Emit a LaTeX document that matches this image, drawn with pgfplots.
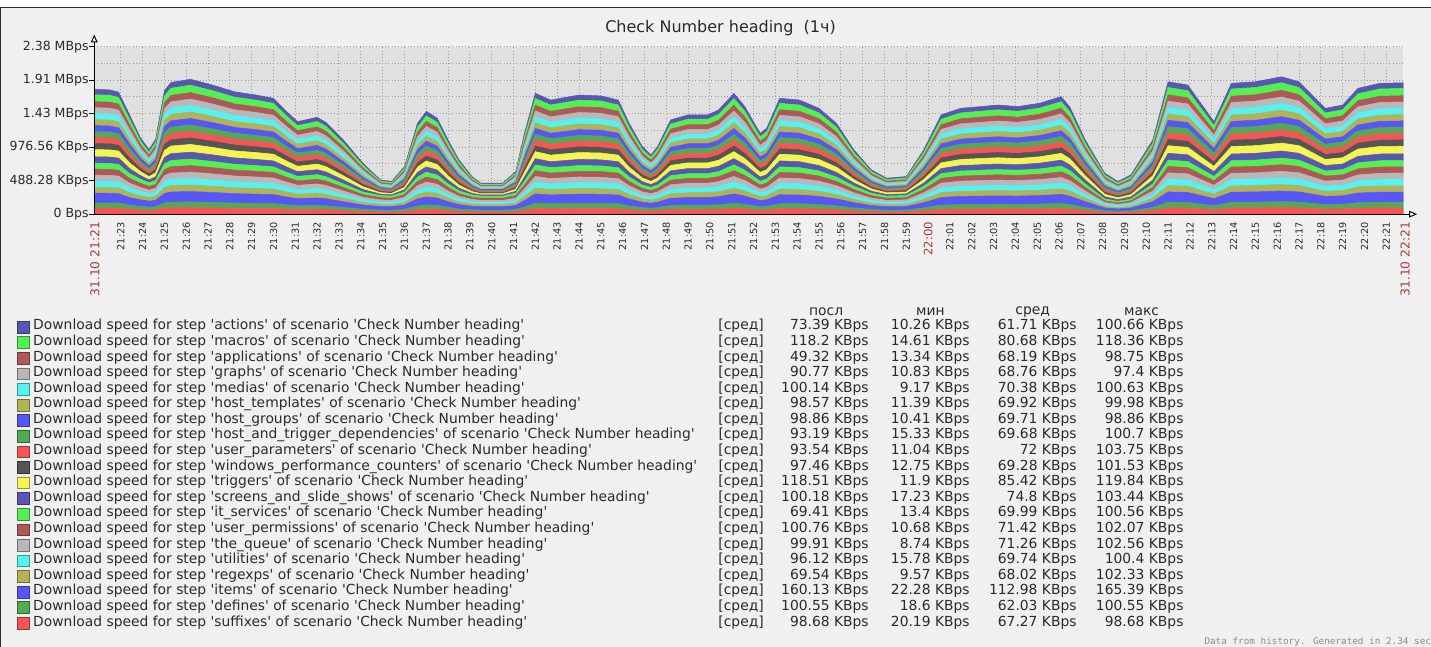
\documentclass[border=0pt]{standalone}
\usepackage{fontspec}
\setmainfont{DejaVu Sans}
\newfontfamily\monof{DejaVu Sans Mono}
\usepackage{pgfplots}
\pgfplotsset{compat=1.18}
\usepackage{pgfplotstable}

\definecolor{cPur}{HTML}{5858B2}
\definecolor{cGrn}{HTML}{52F052}
\definecolor{cBrn}{HTML}{B05858}
\definecolor{cGry}{HTML}{B8B8B8}
\definecolor{cCya}{HTML}{55F2F2}
\definecolor{cOli}{HTML}{B2B257}
\definecolor{cBlu}{HTML}{5757F7}
\definecolor{cDgr}{HTML}{55A855}
\definecolor{cRed}{HTML}{F75555}
\definecolor{cDgy}{HTML}{555555}
\definecolor{cYel}{HTML}{F5F552}
\definecolor{bgc}{HTML}{F0F0F0}
\definecolor{plotbg}{HTML}{E0E0E0}
\definecolor{framec}{HTML}{2B2B2B}
\definecolor{gridc}{HTML}{9C9C9C}
\definecolor{txtc}{HTML}{2A2A2A}
\definecolor{redc}{HTML}{AA3A3A}

% t = minutes after 21:00; values in KBps
\pgfplotstableread{
t lo df it hi sc tr mc ac
21.78333 87.4 78.7 139.8 87.4 93.5 104.9 100.5 78.7
22.5 87.0 78.3 139.2 87.0 93.1 104.4 100.1 78.3
22.9 85.4 76.9 136.6 85.4 91.4 102.5 98.2 76.9
23.4 69.6 62.6 111.4 69.6 74.5 83.5 80.0 62.6
23.9 60 54 96 49 52.4 58.8 56.4 44.1
24.3 54 48.6 86.4 39 41.7 46.8 44.9 35.1
24.6 58 52.2 92.8 49 52.4 58.8 56.4 44.1
25.0 86.4 77.8 138.2 86.4 92.4 103.7 99.4 77.8
25.3 92.2 83.0 147.5 92.2 98.7 110.6 106.0 83.0
26.2 94.4 85.0 151.0 94.4 101.0 113.3 108.6 85.0
27.2 90.4 81.4 144.6 90.4 96.7 108.5 104.0 81.4
28.2 85.7 77.1 137.1 85.7 91.7 102.8 98.6 77.1
29.2 83.4 75.1 133.4 83.4 89.2 100.1 95.9 75.1
30.0 81.1 73.0 129.8 81.1 86.8 97.3 93.3 73.0
30.6 71.8 64.6 114.9 71.8 76.8 86.2 82.6 64.6
31.1 64.8 58.3 103.7 64.8 69.3 77.8 74.5 58.3
32.0 67.8 61.0 108.5 67.8 72.5 81.4 78.0 61.0
32.4 64.3 57.9 102.9 64.3 68.8 77.2 73.9 57.9
33.2 52.0 46.8 83.2 52.0 55.6 62.4 59.8 46.8
34.1 38 34.2 60.8 34 36.4 40.8 39.1 30.6
34.9 32 28.8 51.2 18.5 19.8 22.2 21.3 16.7
35.4 31 27.9 49.6 17.2 18.4 20.6 19.8 15.5
36.0 38 34.2 60.8 30 32.1 36.0 34.5 27.0
36.6 63.6 57.2 101.8 63.6 68.1 76.3 73.1 57.2
37.0 72.0 64.8 115.2 72.0 77.0 86.4 82.8 64.8
37.5 67.2 60.5 107.5 67.2 71.9 80.6 77.3 60.5
38.0 52.0 46.8 83.2 52.0 55.6 62.4 59.8 46.8
38.5 40 36 64 36.6 39.2 43.9 42.1 32.9
39.1 33 29.7 52.8 21.7 23.2 26.0 25.0 19.5
39.5 31 27.9 49.6 15.3 16.4 18.4 17.6 13.8
40.5 31 27.9 49.6 15.3 16.4 18.4 17.6 13.8
41.1 36 32.4 57.6 25.6 27.4 30.7 29.4 23.0
41.5 56.6 50.9 90.6 56.6 60.6 67.9 65.1 50.9
42.0 84.6 76.1 135.4 84.6 90.5 101.5 97.3 76.1
42.7 79.9 71.9 127.8 79.9 85.5 95.9 91.9 71.9
43.4 81.8 73.6 130.9 81.8 87.5 98.2 94.1 73.6
44.0 83.4 75.1 133.4 83.4 89.2 100.1 95.9 75.1
45.0 82.8 74.5 132.5 82.8 88.6 99.4 95.2 74.5
45.8 79.9 71.9 127.8 79.9 85.5 95.9 91.9 71.9
46.3 63.6 57.2 101.8 63.6 68.1 76.3 73.1 57.2
46.9 50 45 80 45.5 48.7 54.6 52.3 41.0
47.3 46 41.4 73.6 38.4 41.1 46.1 44.2 34.6
47.6 50 45 80 45.5 48.7 54.6 52.3 41.0
48.2 66.0 59.4 105.6 66.0 70.6 79.2 75.9 59.4
49.0 69.5 62.6 111.2 69.5 74.4 83.4 79.9 62.6
49.9 69.5 62.6 111.2 69.5 74.4 83.4 79.9 62.6
50.4 73.0 65.7 116.8 73.0 78.1 87.6 84.0 65.7
51.1 84.6 76.1 135.4 84.6 90.5 101.5 97.3 76.1
51.6 75.3 67.8 120.5 75.3 80.6 90.4 86.6 67.8
52.3 56.6 50.9 90.6 56.6 60.6 67.9 65.1 50.9
52.6 60.1 54.1 96.2 60.1 64.3 72.1 69.1 54.1
53.2 81.1 73.0 129.8 81.1 86.8 97.3 93.3 73.0
54.1 79.9 71.9 127.8 79.9 85.5 95.9 91.9 71.9
55.0 74.1 66.7 118.6 74.1 79.3 88.9 85.2 66.7
55.8 63.6 57.2 101.8 63.6 68.1 76.3 73.1 57.2
56.6 48 43.2 76.8 43 46.0 51.6 49.5 38.7
57.4 36 32.4 57.6 27.5 29.4 33.0 31.6 24.8
58.1 31 27.9 49.6 21.2 22.7 25.4 24.4 19.1
59.0 32 28.8 51.2 22.4 24.0 26.9 25.8 20.2
59.8 48 43.2 76.8 43 46.0 51.6 49.5 38.7
60.6 69.5 62.6 111.2 69.5 74.4 83.4 79.9 62.6
61.5 74.1 66.7 118.6 74.1 79.3 88.9 85.2 66.7
62.4 75.3 67.8 120.5 75.3 80.6 90.4 86.6 67.8
63.2 76.4 68.8 122.2 76.4 81.7 91.7 87.9 68.8
64.1 75.3 67.8 120.5 75.3 80.6 90.4 86.6 67.8
65.1 77.6 69.8 124.2 77.6 83.0 93.1 89.2 69.8
66.1 82.3 74.1 131.7 82.3 88.1 98.8 94.6 74.1
66.5 74.9 67.4 119.8 74.9 80.1 89.9 86.1 67.4
67.2 52.0 46.8 83.2 52.0 55.6 62.4 59.8 46.8
68.1 26 23.4 41.6 30.5 32.6 36.6 35.1 27.5
68.7 22 19.8 35.2 23.4 25.0 28.1 26.9 21.1
69.3 26 23.4 41.6 28.6 30.6 34.3 32.9 25.7
70.3 52.0 46.8 83.2 52.0 55.6 62.4 59.8 46.8
71.0 92.7 83.4 148.3 92.7 99.2 111.2 106.6 83.4
71.9 90.4 81.4 144.6 90.4 96.7 108.5 104.0 81.4
73.1 64.8 58.3 103.7 64.8 69.3 77.8 74.5 58.3
73.9 91.6 82.4 146.6 91.6 98.0 109.9 105.3 82.4
75.0 92.7 83.4 148.3 92.7 99.2 111.2 106.6 83.4
76.2 96.2 86.6 153.9 96.2 102.9 115.4 110.6 86.6
77.0 92.7 83.4 148.3 92.7 99.2 111.2 106.6 83.4
78.2 74.1 66.7 118.6 74.1 79.3 88.9 85.2 66.7
79.0 76.4 68.8 122.2 76.4 81.7 91.7 87.9 68.8
79.7 88.1 79.3 141.0 88.1 94.3 105.7 101.3 79.3
80.7 91.6 82.4 146.6 91.6 98.0 109.9 105.3 82.4
81.78333 92.0 82.8 147.2 92.0 98.4 110.4 105.8 82.8
}\data

\newcommand{\q}{\textquotesingle}
\newcommand{\LE}[5]{\makebox[0pt][l]{Download speed for step \q#1\q{} of scenario \q Check Number heading\q}\makebox[548.25pt][r]{[сред]}\makebox[78.75pt][r]{#2 KBps}\makebox[75.75pt][r]{#3 KBps}\makebox[80.25pt][r]{#4 KBps}\makebox[80.25pt][r]{#5 KBps}}

\pgfplotsset{sq/.style={fill=#1, draw=#1, line width=0.4pt,
  legend image code/.code={
    \fill[#1!62!black] (0pt,-4.4pt) rectangle (8.8pt,4.4pt);
    \fill[#1] (0.75pt,-3.65pt) rectangle (8.05pt,3.65pt);}}}

\begin{document}
\begin{tikzpicture}
\begin{scope}[x=0.75pt,y=-0.75pt]
\useasboundingbox (0,0) rectangle (1431,643);
\fill[white] (0,0) rectangle (1431,643);
\filldraw[fill=bgc, draw=framec, line width=0.75pt] (0.6,7.3) rectangle (1460,670);
\end{scope}
\begin{axis}[
  at={(70.725pt,-160.725pt)}, anchor=south west,
  scale only axis, width=982.5pt, height=125.7pt,
  xmin=21.78333, xmax=81.78333, ymin=0, ymax=2441.406,
  stack plots=y,
  axis line style={draw=none},
  axis background/.style={fill=plotbg},
  xtick={23,...,59,61,62,...,81},
  xticklabels={21:23,21:24,21:25,21:26,21:27,21:28,21:29,21:30,21:31,21:32,21:33,21:34,21:35,21:36,21:37,21:38,21:39,21:40,21:41,21:42,21:43,21:44,21:45,21:46,21:47,21:48,21:49,21:50,21:51,21:52,21:53,21:54,21:55,21:56,21:57,21:58,21:59,22:01,22:02,22:03,22:04,22:05,22:06,22:07,22:08,22:09,22:10,22:11,22:12,22:13,22:14,22:15,22:16,22:17,22:18,22:19,22:20,22:21},
  extra x ticks={60},
  extra x tick labels={\textcolor{redc}{\fontsize{8.7}{9}\selectfont 22:00}},
  ytick={0,488.281,976.563,1464.844,1953.125,2441.406},
  yticklabels={0 Bps,488.28 KBps,976.56 KBps,1.43 MBps,1.91 MBps,2.38 MBps},
  minor ytick={244.141,732.422,1220.703,1708.984,2197.266},
  grid=both,
  major grid style={gridc, dotted, line width=0.75pt},
  minor grid style={gridc, dotted, line width=0.75pt},
  tick style={draw=none},
  /pgf/number format/assume math mode=true,
  xticklabel style={rotate=90, anchor=east, inner sep=0pt, font=\fontsize{7.3}{8}\selectfont, text=txtc},
  xticklabel shift=5.8pt,
  yticklabel style={anchor=east, inner sep=0pt, font=\fontsize{9.4}{10}\selectfont, text=txtc},
  yticklabel shift=4pt,
  reverse legend,
  legend cell align=left,
  legend style={at={(-0.05901,-0.627)}, anchor=north west, draw=none, fill=none,
    inner sep=0pt, outer sep=0pt, row sep=0pt, column sep=3pt,
    font=\fontsize{10.4}{11.7}\selectfont, text=txtc,
    nodes={inner sep=0pt, text height=8pt, text depth=3.7pt}},
]
\addplot[sq=cRed] table[x=t,y=lo]{\data} \closedcycle;
\addlegendentry{\LE{suffixes}{98.68}{20.19}{67.27}{98.68}}
\addplot[sq=cDgr] table[x=t,y=df]{\data} \closedcycle;
\addlegendentry{\LE{defines}{100.55}{18.6}{62.03}{100.55}}
\addplot[sq=cBlu] table[x=t,y=it]{\data} \closedcycle;
\addlegendentry{\LE{items}{160.13}{22.28}{112.98}{165.39}}
\addplot[sq=cOli] table[x=t,y=lo]{\data} \closedcycle;
\addlegendentry{\LE{regexps}{69.54}{9.57}{68.02}{102.33}}
\addplot[sq=cCya] table[x=t,y=lo]{\data} \closedcycle;
\addlegendentry{\LE{utilities}{96.12}{15.78}{69.74}{100.4}}
\addplot[sq=cGry] table[x=t,y=lo]{\data} \closedcycle;
\addlegendentry{\LE{the\_queue}{99.91}{8.74}{71.26}{102.56}}
\addplot[sq=cBrn] table[x=t,y=lo]{\data} \closedcycle;
\addlegendentry{\LE{user\_permissions}{100.76}{10.68}{71.42}{102.07}}
\addplot[sq=cGrn] table[x=t,y=lo]{\data} \closedcycle;
\addlegendentry{\LE{it\_services}{69.41}{13.4}{69.99}{100.56}}
\addplot[sq=cPur] table[x=t,y=sc]{\data} \closedcycle;
\addlegendentry{\LE{screens\_and\_slide\_shows}{100.18}{17.23}{74.8}{103.44}}
\addplot[sq=cYel] table[x=t,y=tr]{\data} \closedcycle;
\addlegendentry{\LE{triggers}{118.51}{11.9}{85.42}{119.84}}
\addplot[sq=cDgy] table[x=t,y=hi]{\data} \closedcycle;
\addlegendentry{\LE{windows\_performance\_counters}{97.46}{12.75}{69.28}{101.53}}
\addplot[sq=cRed] table[x=t,y=hi]{\data} \closedcycle;
\addlegendentry{\LE{user\_parameters}{93.54}{11.04}{72}{103.75}}
\addplot[sq=cDgr] table[x=t,y=hi]{\data} \closedcycle;
\addlegendentry{\LE{host\_and\_trigger\_dependencies}{93.19}{15.33}{69.68}{100.7}}
\addplot[sq=cBlu] table[x=t,y=hi]{\data} \closedcycle;
\addlegendentry{\LE{host\_groups}{98.86}{10.41}{69.71}{98.86}}
\addplot[sq=cOli] table[x=t,y=hi]{\data} \closedcycle;
\addlegendentry{\LE{host\_templates}{98.57}{11.39}{69.92}{99.98}}
\addplot[sq=cCya] table[x=t,y=hi]{\data} \closedcycle;
\addlegendentry{\LE{medias}{100.14}{9.17}{70.38}{100.63}}
\addplot[sq=cGry] table[x=t,y=hi]{\data} \closedcycle;
\addlegendentry{\LE{graphs}{90.77}{10.83}{68.76}{97.4}}
\addplot[sq=cBrn] table[x=t,y=hi]{\data} \closedcycle;
\addlegendentry{\LE{applications}{49.32}{13.34}{68.19}{98.75}}
\addplot[sq=cGrn] table[x=t,y=mc]{\data} \closedcycle;
\addlegendentry{\LE{macros}{118.2}{14.61}{80.68}{118.36}}
\addplot[sq=cPur] table[x=t,y=ac]{\data} \closedcycle;
\addlegendentry{\LE{actions}{73.39}{10.26}{61.71}{100.66}}
\end{axis}
\begin{scope}[x=0.75pt,y=-0.75pt]
\draw[black, line width=0.75pt] (94.3,214.3) -- (94.3,41);
\draw[black, line width=0.75pt, fill=white] (91.6,41.8) -- (94.3,35.8) -- (97,41.8) -- cycle;
\draw[black, line width=0.75pt] (94.3,214.3) -- (1410.5,214.3);
\draw[black, line width=0.75pt, fill=white] (1410.5,211.6) -- (1416.8,214.3) -- (1410.5,217) -- cycle;
\foreach \yy in {214.3,180.78,147.26,113.74,80.22,46.7}
  \draw[black, line width=0.75pt] (89.5,\yy) -- (94.3,\yy);
\node[rotate=90, anchor=east, inner sep=0pt, font=\fontsize{9.2}{10}\selectfont, text=redc] at (95,222) {31.10 21:21};
\node[rotate=90, anchor=east, inner sep=0pt, font=\fontsize{9.2}{10}\selectfont, text=redc] at (1406,222) {31.10 22:21};
\node[font=\fontsize{12}{14}\selectfont, text=txtc] at (721,28) {Check Number heading\ \ (1ч)};
\node[font=\fontsize{10.4}{11.7}\selectfont, text=txtc] at (826.7,311.8) {посл};
\node[font=\fontsize{10.4}{11.7}\selectfont, text=txtc] at (931,311.8) {мин};
\node[font=\fontsize{10.4}{11.7}\selectfont, text=txtc] at (1033.3,311.8) {сред};
\node[font=\fontsize{10.4}{11.7}\selectfont, text=txtc] at (1142.3,311.8) {макс};
\node[anchor=base west, inner sep=0pt, font=\monof\fontsize{7}{8}\selectfont, text=black!45] at (1205,645) {Data from history. Generated in 2.34 sec};
\end{scope}
\end{tikzpicture}
\end{document}
